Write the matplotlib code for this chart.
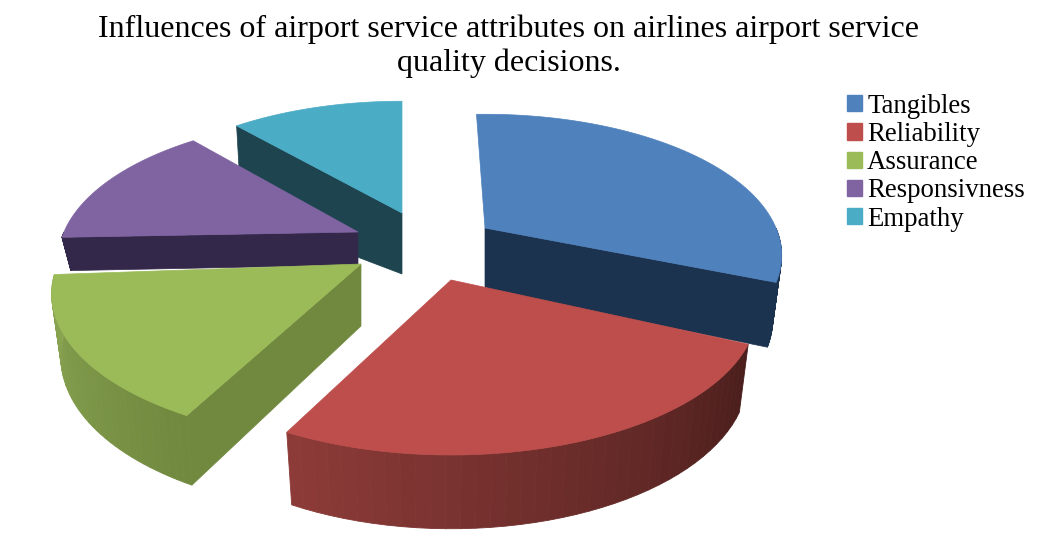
import numpy as np
import matplotlib
matplotlib.use("Agg")
import matplotlib.pyplot as plt
from matplotlib.patches import Patch
from matplotlib.colors import to_rgb

# chart data, percent of the pie
labels = ["Tangibles", "Reliability", "Assurance", "Responsivness", "Empathy"]
values = [31.9, 25.8, 17.8, 12.8, 11.7]

# styling per slice
top_colors = ["#4f81bd", "#bd4e4b", "#9bbb59", "#8064a2", "#4bacc6"]
face_colors = ["#1c334f", "#4a1e1c", "#71893f", "#33284a", "#1d444f"]
rim_start = ["#1c334f", "#4a1e1c", "#71893f", "#33284a", "#1d444f"]
rim_end = ["#1c334f", "#8e3c39", "#8aa652", "#33284a", "#1d444f"]
apex_x = [485, 451, 361, 358, 402]
apex_y = [228, 280, 264, 232, 213]
depth = [62, 65, 62, 33, 61]
radius = [0.97, 1.0, 1.01, 0.98, 0.95]
# small visual gaps between slices, degrees
start_adj = [0, 2, 2.5, -2, 2.6]
end_adj = [-1, 1, -4, 4, 2]
draw_order = [4, 3, 0, 2, 1]

start_angle = -2
RX = 300
RY = 140
PERSP = 0.2


def top_point(t, i):
    u = radius[i] * np.sin(np.radians(t))
    v = radius[i] * np.cos(np.radians(t))
    s = 1 / (1 + PERSP * v)
    return RX * u * s, -RY * v * s


def bottom_point(t, i):
    dx, dy = top_point(t, i)
    if dy > 0:
        dy2 = dy * 1.05
    else:
        dy2 = dy * 0.7
    return apex_x[i] + dx * 0.97, apex_y[i] + depth[i] + dy2


def screen_top(t, i):
    dx, dy = top_point(t, i)
    return apex_x[i] + dx, apex_y[i] + dy


def mix(c1, c2, f):
    a = np.array(to_rgb(c1))
    b = np.array(to_rgb(c2))
    return tuple(a + (b - a) * f)


fig = plt.figure(figsize=(10.45, 5.36), dpi=100)
ax = fig.add_axes([0, 0, 1, 1])
ax.set_xlim(0, 1045)
ax.set_ylim(536, 0)
ax.axis("off")

angles = start_angle + np.concatenate([[0], np.cumsum(values)]) * 360 / sum(values)

for i in draw_order:
    t0 = angles[i] + start_adj[i]
    t1 = angles[i + 1] + end_adj[i]
    ax_x, ax_y = apex_x[i], apex_y[i]

    # flat cut faces that look towards the viewer
    for t, normal in [(t0, t0 - 90), (t1, t1 + 90)]:
        if np.cos(np.radians(normal)) < -0.05:
            ex, ey = screen_top(t, i)
            bx, by = bottom_point(t, i)
            ax.fill([ax_x, ex, bx, ax_x], [ax_y, ey, by, ax_y + depth[i]],
                    color=face_colors[i], lw=0.5)

    # outer rim, split up so that it can carry the gradient
    lo = max(t0, 90)
    hi = min(t1, 270)
    if hi > lo:
        steps = np.linspace(lo, hi, 40)
        for a, b in zip(steps[:-1], steps[1:]):
            xa, ya = screen_top(a, i)
            xb, yb = screen_top(b, i)
            xc, yc = bottom_point(b, i)
            xd, yd = bottom_point(a, i)
            c = mix(rim_start[i], rim_end[i], (a - lo) / (hi - lo))
            ax.fill([xa, xb, xc, xd], [ya, yb, yc, yd], color=c, lw=0.6)

    # top of the slice
    ts = np.linspace(t0, t1, 80)
    pts = [screen_top(t, i) for t in ts]
    xs = [ax_x] + [p[0] for p in pts]
    ys = [ax_y] + [p[1] for p in pts]
    ax.fill(xs, ys, color=top_colors[i], lw=0.5)

ax.text(509, 46, "Influences of airport service attributes on airlines airport service\nquality decisions.",
        ha="center", va="center", family="Liberation Serif", fontsize=23, color="black", linespacing=1.2)

handles = [Patch(color=c, label=l) for c, l in zip(top_colors, labels)]
ax.legend(handles=handles, loc="upper left", bbox_to_anchor=(0.8105, 0.825), frameon=False,
          prop={"family": "Liberation Serif", "size": 19.3}, handlelength=0.55, handleheight=0.55,
          handletextpad=0.2, labelspacing=0.12, borderpad=0, borderaxespad=0)

fig.savefig("out.png", dpi=100)
